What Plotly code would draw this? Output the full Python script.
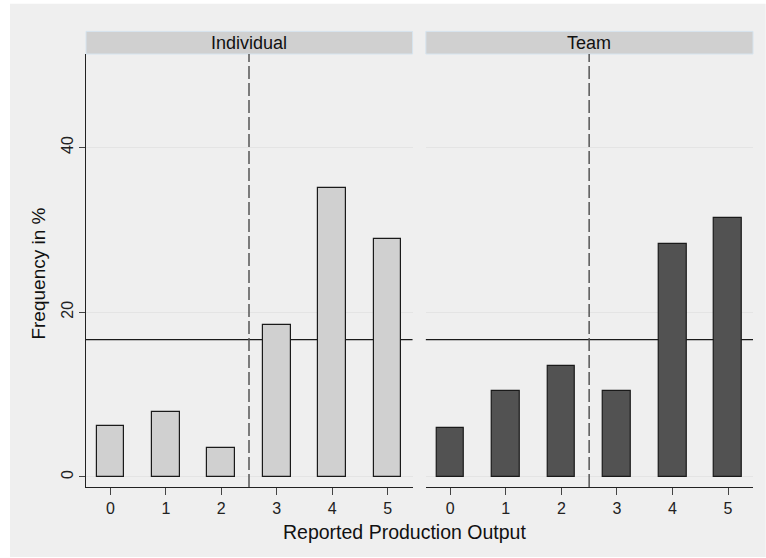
import plotly.graph_objects as go

categories = [0, 1, 2, 3, 4, 5]
individual = [6.2, 7.9, 3.5, 18.5, 35.1, 28.9]
team = [6.0, 10.5, 13.5, 10.5, 28.3, 31.4]
panel_titles = ["Individual", "Team"]
y_ticks = [0, 20, 40]
uniform_share = 100 / 6
cutoff = 2.5

W, H = 766, 558
L, R, T, B = 86, 12.7, 54.3, 71
pw = W - L - R
ph = H - T - B

def px_x(p):
    return (p - L) / pw

def px_y(p):
    return (H - B - p) / ph

dom1 = [0, px_x(412.7)]
dom2 = [px_x(426), 1]

fig = go.Figure()
fig.add_trace(go.Bar(x=categories, y=individual, width=0.5, xaxis="x", yaxis="y",
                     marker=dict(color="#d0d0d0", line=dict(color="#1a1a1a", width=1.2)),
                     showlegend=False))
fig.add_trace(go.Bar(x=categories, y=team, width=0.5, xaxis="x2", yaxis="y2",
                     marker=dict(color="#525252", line=dict(color="#1a1a1a", width=1.2)),
                     showlegend=False))

font = "Liberation Sans, Arial, sans-serif"
xcommon = dict(range=[-0.44, 5.45], tickvals=categories, ticks="outside", ticklen=7,
               tickcolor="#444", tickwidth=1, showline=True, linecolor="#222", linewidth=1,
               showgrid=False, zeroline=False, tickfont=dict(size=16, color="#222", family=font),
               fixedrange=True)
ycommon = dict(range=[-1.215, 51.35], tickvals=y_ticks, showgrid=True, gridcolor="#e4e4e4",
               gridwidth=1, zeroline=False, fixedrange=True)

fig.update_layout(
    width=W, height=H,
    margin=dict(l=L, r=R, t=T, b=B),
    paper_bgcolor="white", plot_bgcolor="white",
    bargap=0,
    xaxis=dict(domain=dom1, anchor="y", **xcommon),
    xaxis2=dict(domain=dom2, anchor="y2", **xcommon),
    yaxis=dict(domain=[0, 1], anchor="x", ticks="outside", ticklen=6, tickcolor="#444",
               showline=True, linecolor="#222", linewidth=1, tickangle=-90,
               tickfont=dict(size=16, color="#222", family=font), **ycommon),
    yaxis2=dict(domain=[0, 1], anchor="x2", showticklabels=False, showline=False,
                matches="y", **ycommon),
    font=dict(family=font, color="#222"),
)

shapes = []
# outer gray background
shapes.append(dict(type="rect", xref="paper", yref="paper", x0=px_x(10), x1=px_x(766),
                   y0=px_y(557), y1=px_y(4), fillcolor="#efefef", line=dict(width=0),
                   layer="below"))
for i, ax in enumerate(["x", "x2"]):
    ya = "y" if i == 0 else "y2"
    dom = dom1 if i == 0 else dom2
    # strip
    shapes.append(dict(type="rect", xref="paper", yref="paper", x0=dom[0], x1=dom[1],
                       y0=px_y(54.3), y1=px_y(31.7), fillcolor="#d0d0d0",
                       line=dict(color="#d6e4ef", width=1), layer="above"))
    # uniform reference line
    shapes.append(dict(type="line", xref=f"{ax} domain", yref=ya, x0=0, x1=1,
                       y0=uniform_share, y1=uniform_share,
                       line=dict(color="#1a1a1a", width=1.2), layer="below"))
    # cutoff dashed line
    shapes.append(dict(type="line", xref=ax, yref=f"{ya} domain", x0=cutoff, x1=cutoff,
                       y0=0, y1=1, line=dict(color="#555", width=1.5, dash="13px,4px"),
                       layer="above"))

annotations = []
for i, t in enumerate(panel_titles):
    dom = dom1 if i == 0 else dom2
    annotations.append(dict(text=t, xref="paper", yref="paper", x=(dom[0] + dom[1]) / 2,
                            y=px_y(43), xanchor="center", yanchor="middle", showarrow=False,
                            font=dict(size=18, color="#111", family=font)))
annotations.append(dict(text="Frequency in %", xref="paper", yref="paper", x=px_x(38.7),
                        y=px_y(274), textangle=-90, xanchor="center", yanchor="middle",
                        showarrow=False, font=dict(size=19, color="#111", family=font)))
annotations.append(dict(text="Reported Production Output", xref="paper", yref="paper",
                        x=px_x(405), y=px_y(532), xanchor="center", yanchor="middle",
                        showarrow=False, font=dict(size=19.5, color="#111", family=font)))

fig.update_layout(shapes=shapes, annotations=annotations)
fig.write_html("out.html", config={"displayModeBar": False},
               post_script="document.body.style.margin='0';")
